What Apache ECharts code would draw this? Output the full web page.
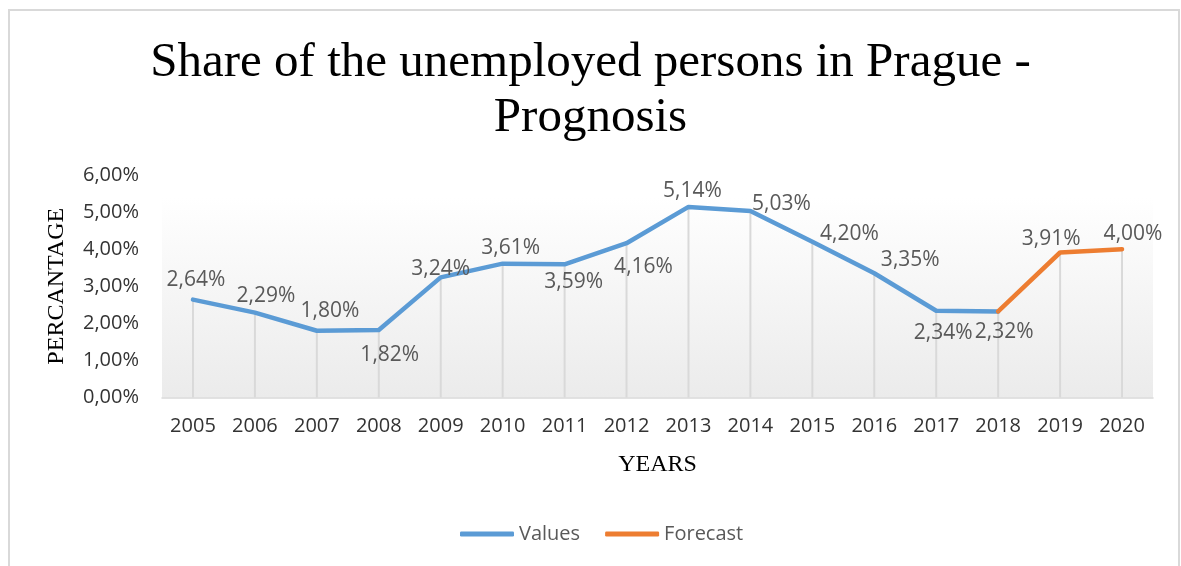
<!DOCTYPE html>
<html>
<head>
<meta charset="utf-8">
<script src="https://cdn.jsdelivr.net/npm/echarts@6/dist/echarts.min.js"></script>
<style>html,body{margin:0;padding:0;background:#fff}#c{width:1181px;height:566px}</style>
</head>
<body>
<div id="c"></div>
<script>
// ---- data ----
const years = ['2005','2006','2007','2008','2009','2010','2011','2012','2013','2014','2015','2016','2017','2018','2019','2020'];
const values = [2.64, 2.29, 1.80, 1.82, 3.24, 3.61, 3.59, 4.16, 5.14, 5.03, 4.20, 3.35, 2.34, 2.32];
const forecastYears = ['2018','2019','2020'];
const forecastValues = [2.32, 3.91, 4.00];
const yTicks = [0, 1, 2, 3, 4, 5, 6];

// label placement (style only)
const valueLabelOffsets = [[3,-20],[11,-17],[13,-20],[11,25],[0,-8],[8,-16],[9,18],[17,24],[4,-16],[31,-7],[37,-8],[36,-13],[7,22],[6,21]];
const forecastLabelOffsets = [null, [-9,-13], [11,-15]];

const fmt = v => v.toFixed(2).replace('.', ',') + '%';

const forecastSeriesData = years.map(y => {
  const i = forecastYears.indexOf(y);
  if (i < 0) return null;
  const off = forecastLabelOffsets[i];
  return off ? {value: forecastValues[i], label: {show: true, offset: off}} : {value: forecastValues[i], label: {show: false}};
});
const valueSeriesData = years.map((y, i) => i < values.length ? {value: values[i], label: {offset: valueLabelOffsets[i]}} : null);
const dropData = years.map((y, i) => i < values.length ? values[i] : forecastValues[forecastYears.indexOf(y)]);

const labelStyle = {show: true, position: 'inside', fontFamily: 'Open Sans', fontSize: 21, color: '#595959', formatter: p => fmt(p.value)};

const chart = echarts.init(document.getElementById('c'), null, {renderer: 'canvas'});
chart.setOption({
  animation: false,
  backgroundColor: '#fff',
  graphic: [{type: 'rect', shape: {x: 9, y: 10, width: 1170, height: 600}, style: {fill: 'none', stroke: '#d9d9d9', lineWidth: 2}, silent: true, z: -10}],
  title: {
    text: 'Share of the unemployed persons in Prague -\nPrognosis',
    left: 'center', top: 31,
    textStyle: {fontFamily: 'Liberation Serif', fontSize: 49, fontWeight: 'normal', color: '#000', lineHeight: 55}
  },
  legend: {
    data: ['Values', 'Forecast'],
    left: 455, top: 519,
    icon: 'roundRect', itemWidth: 54, itemHeight: 5, itemGap: 25,
    textStyle: {fontFamily: 'Open Sans', fontSize: 20, color: '#595959'}
  },
  grid: {
    left: 162, right: 28, top: 175, bottom: 168.5,
    show: true, borderWidth: 0,
    backgroundColor: new echarts.graphic.LinearGradient(0, 0, 0, 1, [
      {offset: 0, color: '#ffffff'}, {offset: 0.1, color: '#ffffff'}, {offset: 1, color: '#ebebeb'}
    ])
  },
  xAxis: {
    type: 'category', data: years, boundaryGap: true,
    axisTick: {show: false},
    axisLine: {lineStyle: {color: '#d9d9d9', width: 1.5}},
    axisLabel: {fontFamily: 'Open Sans', fontSize: 20, color: '#333333', margin: 19},
    name: 'YEARS', nameLocation: 'middle', nameGap: 55,
    nameTextStyle: {fontFamily: 'Liberation Serif', fontSize: 24, color: '#000'}
  },
  yAxis: {
    type: 'value', min: yTicks[0], max: yTicks[yTicks.length - 1], interval: 1,
    splitLine: {show: false},
    axisLine: {show: false}, axisTick: {show: false},
    axisLabel: {fontFamily: 'Open Sans', fontSize: 20, color: '#333333', margin: 23, formatter: v => fmt(v)},
    name: 'PERCANTAGE', nameLocation: 'middle', nameGap: 93, nameRotate: 90,
    nameTextStyle: {fontFamily: 'Liberation Serif', fontSize: 24, color: '#000'}
  },
  series: [
    {
      name: 'drop', type: 'bar', data: dropData, barWidth: 2, silent: true, z: 1,
      itemStyle: {color: '#d9d9d9'}, legendHoverLink: false
    },
    {
      name: 'Values', type: 'line', data: valueSeriesData, z: 3,
      symbol: 'circle', symbolSize: 1, showSymbol: true,
      itemStyle: {color: '#5B9BD5'},
      lineStyle: {color: '#5B9BD5', width: 4.5, cap: 'round', join: 'round'},
      label: labelStyle
    },
    {
      name: 'Forecast', type: 'line', data: forecastSeriesData, z: 3,
      symbol: 'circle', symbolSize: 1, showSymbol: true,
      itemStyle: {color: '#ED7D31'},
      lineStyle: {color: '#ED7D31', width: 4.5, cap: 'round', join: 'round'},
      label: labelStyle
    }
  ]
});
</script>
</body>
</html>
